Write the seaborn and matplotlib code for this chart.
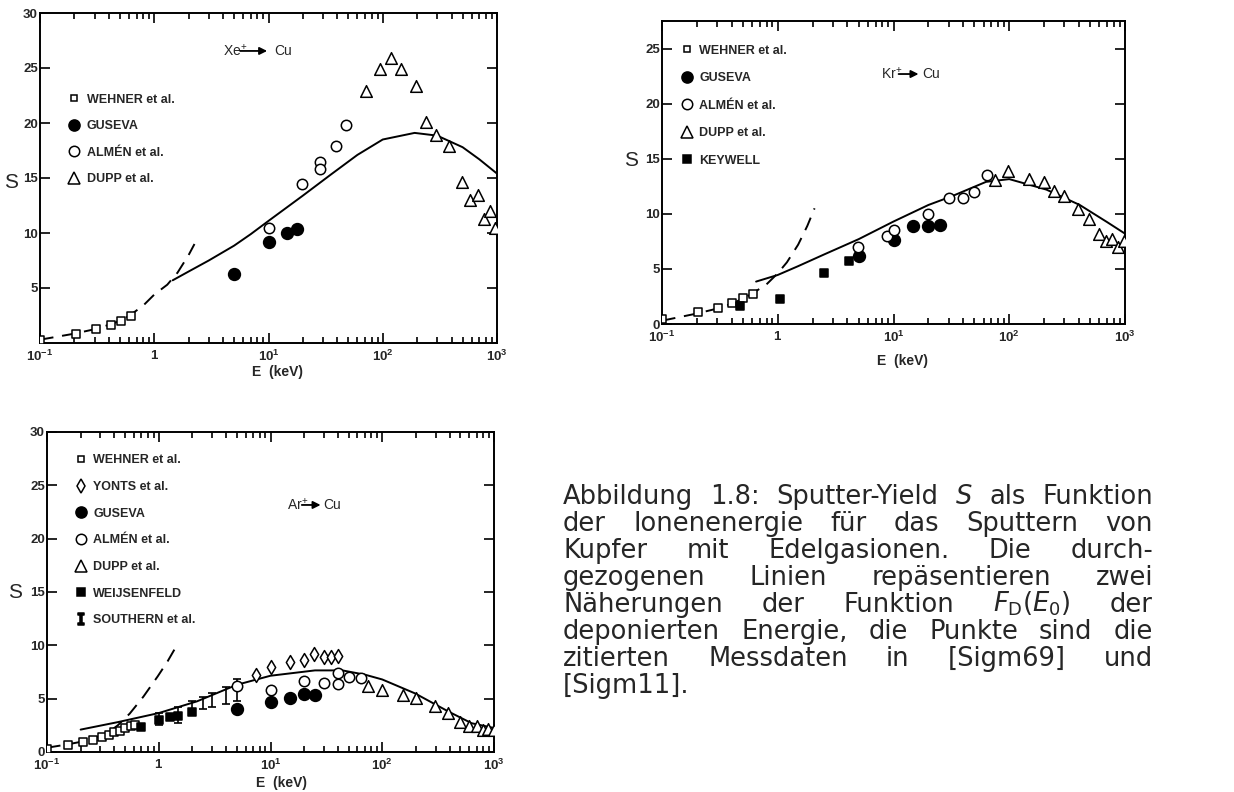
import numpy as np
import pandas as pd
import matplotlib
matplotlib.use("Agg")
import matplotlib.pyplot as plt
import seaborn as sns
from matplotlib.lines import Line2D
from matplotlib.ticker import FixedLocator, LogLocator, NullFormatter, FixedFormatter

# ---------------- data ----------------
# Xe+ -> Cu
xe_wehner_E = [0.10, 0.207, 0.31, 0.42, 0.51, 0.62]
xe_wehner_S = [0.3, 0.85, 1.25, 1.65, 2.0, 2.5]
xe_guseva_E = [5.0, 10.0, 14.5, 17.6]
xe_guseva_S = [6.3, 9.2, 10.0, 10.4]
xe_almen_E = [10.0, 19.5, 28.5, 28.5, 38.8, 48.0]
xe_almen_S = [10.5, 14.5, 16.5, 15.8, 17.9, 19.8]
xe_dupp_E = [71.5, 94.6, 118.6, 144.5, 194, 240, 294, 382, 489, 580, 683, 765, 866, 966]
xe_dupp_S = [22.9, 24.9, 25.9, 24.9, 23.4, 20.1, 18.9, 17.9, 14.6, 13.0, 13.5, 11.3, 12.0, 10.5]
xe_solid_E = [1.45, 2.0, 3.0, 5.0, 7.0, 10, 20, 35, 60, 100, 190, 300, 500, 700, 1000]
xe_solid_S = [5.7, 6.5, 7.5, 8.85, 9.9, 11.1, 13.4, 15.3, 17.1, 18.5, 19.1, 18.85, 17.8, 16.7, 15.4]
xe_dash_E = [0.1, 0.2, 0.3, 0.4, 0.5, 0.6, 0.8, 1.0, 1.3, 1.6, 2.0, 2.25]
xe_dash_S = [0.3, 0.85, 1.25, 1.65, 2.0, 2.45, 3.4, 4.4, 5.3, 6.4, 8.0, 9.0]

# Kr+ -> Cu
kr_wehner_E = [0.10, 0.205, 0.303, 0.404, 0.505, 0.61]
kr_wehner_S = [0.42, 1.06, 1.42, 1.94, 2.4, 2.76]
kr_guseva_E = [5.0, 10.0, 14.8, 19.9, 25.3]
kr_guseva_S = [6.2, 7.6, 8.85, 8.85, 8.94]
kr_almen_E = [4.9, 8.8, 10.0, 20.0, 29.9, 40.0, 49.6, 64.8]
kr_almen_S = [7.0, 8.0, 8.5, 10.0, 11.4, 11.4, 12.0, 13.5]
kr_dupp_E = [75.5, 98, 147, 199, 243, 299, 395, 490, 594, 679, 776, 870, 980]
kr_dupp_S = [13.1, 13.85, 13.15, 12.85, 12.1, 11.6, 10.45, 9.5, 8.2, 7.55, 7.7, 7.0, 7.5]
kr_keywell_E = [0.47, 1.05, 2.5, 4.1]
kr_keywell_S = [1.67, 2.27, 4.67, 5.7]
kr_solid_E = [0.65, 1.0, 1.5, 2.5, 5, 10, 20, 32, 63, 100, 209, 407, 700, 1000]
kr_solid_S = [3.85, 4.45, 5.25, 6.3, 7.7, 9.3, 10.8, 11.6, 12.9, 13.15, 12.2, 10.8, 9.25, 8.2]
kr_dash_E = [0.1, 0.2, 0.3, 0.4, 0.5, 0.6, 0.8, 1.0, 1.2, 1.5, 1.8, 2.08]
kr_dash_S = [0.3, 0.95, 1.4, 1.85, 2.3, 2.75, 3.6, 4.6, 5.6, 7.2, 8.9, 10.5]

# Ar+ -> Cu
ar_wehner_E = [0.10, 0.154, 0.208, 0.26, 0.31, 0.356, 0.40, 0.45, 0.50, 0.56, 0.61]
ar_wehner_S = [0.3, 0.7, 0.94, 1.16, 1.4, 1.63, 1.84, 2.0, 2.25, 2.47, 2.56]
ar_yonts_E = [7.4, 10, 15, 20, 24.5, 30, 35, 40]
ar_yonts_S = [7.25, 7.95, 8.4, 8.6, 9.2, 8.9, 8.9, 9.0]
ar_guseva_E = [5, 10, 15, 20, 25]
ar_guseva_S = [4.0, 4.65, 5.1, 5.45, 5.3]
ar_almen_E = [5, 10, 20, 30, 40, 40, 50, 65]
ar_almen_S = [6.2, 5.85, 6.7, 6.5, 7.4, 6.4, 7.0, 6.9]
ar_dupp_E = [74, 100, 154, 200, 295, 390, 500, 600, 700, 800, 880, 1000]
ar_dupp_S = [6.2, 5.8, 5.3, 5.1, 4.3, 3.65, 2.8, 2.4, 2.4, 2.1, 2.15, 2.1]
ar_weij_E = [0.69, 1.0, 1.27, 1.49, 2.0]
ar_weij_S = [2.35, 3.0, 3.25, 3.4, 3.75]
ar_south_E = [1.0, 1.5, 2.0, 2.5, 3.0, 4.0, 5.0]
ar_south_lo = [2.5, 2.7, 3.65, 4.0, 4.2, 4.5, 4.75]
ar_south_hi = [3.7, 4.2, 4.75, 5.2, 5.5, 6.1, 6.85]
ar_solid_E = [0.2, 0.43, 1, 2.2, 5, 10, 25, 44, 70, 100, 196, 390, 630, 1000]
ar_solid_S = [2.1, 2.8, 3.65, 4.75, 6.3, 7.15, 7.65, 7.65, 7.25, 6.8, 5.5, 3.8, 2.7, 2.25]
ar_dash_E = [0.1, 0.15, 0.2, 0.25, 0.3, 0.35, 0.43, 0.55, 0.73, 0.98, 1.2, 1.47]
ar_dash_S = [0.4, 0.7, 0.95, 1.2, 1.5, 1.8, 2.5, 3.6, 5.2, 7.1, 8.5, 10.1]

x_ticks = [0.1, 1, 10, 100, 1000]
x_ticklabels = [r"$\mathbf{10^{-1}}$", r"$\mathbf{1}$", r"$\mathbf{10^{1}}$",
                r"$\mathbf{10^{2}}$", r"$\mathbf{10^{3}}$"]

caption_lines = [
    "Abbildung 1.8: Sputter-Yield $S$ als Funktion",
    "der Ionenenergie für das Sputtern von",
    "Kupfer mit Edelgasionen. Die durch-",
    "gezogenen Linien repäsentieren zwei",
    "Näherungen der Funktion $F_\\mathrm{D}(E_0)$ der",
    "deponierten Energie, die Punkte sind die",
    "zitierten Messdaten in [Sigm69] und",
    "[Sigm11].",
]

# ---------------- style ----------------
sns.set_style("ticks")
plt.rcParams["font.family"] = ["Liberation Sans", "DejaVu Sans"]
plt.rcParams["mathtext.fontset"] = "custom"
plt.rcParams["mathtext.rm"] = "Liberation Sans"
plt.rcParams["mathtext.it"] = "Liberation Sans:italic"
plt.rcParams["mathtext.bf"] = "Liberation Sans:bold"
plt.rcParams["mathtext.tt"] = "DejaVu Sans Mono:bold"

STY = {
    "WEHNER et al.": dict(marker="s", s=26, fc="white", ms=5.0),
    "YONTS et al.": dict(marker="d", s=50, fc="white", ms=7.0),
    "GUSEVA": dict(marker="o", s=72, fc="black", ms=8.0),
    "ALMÉN et al.": dict(marker="o", s=56, fc="white", ms=7.5),
    "DUPP et al.": dict(marker="^", s=70, fc="white", ms=8.0),
    "KEYWELL": dict(marker="s", s=34, fc="black", ms=5.6),
    "WEIJSENFELD": dict(marker="s", s=34, fc="black", ms=5.6),
    "SOUTHERN et al.": dict(marker=r"$\mathtt{I}$", s=0, fc="black", ms=8),
}

W, H = 1234, 792
fig = plt.figure(figsize=(W / 100, H / 100), dpi=100)
fig.patch.set_facecolor("white")


def add_ax(l, r, t, b):
    return fig.add_axes([l / W, 1 - b / H, (r - l) / W, (b - t) / H])


def pts(ax, E, S, key):
    st = STY[key]
    sns.scatterplot(x=E, y=S, ax=ax, marker=st["marker"], s=st["s"],
                    facecolor=st["fc"], edgecolor="black", linewidth=1.1,
                    zorder=4, legend=False)


def curve(ax, E, S, dashed=False):
    kw = dict(color="black", lw=1.4, zorder=3, estimator=None, sort=False)
    if dashed:
        kw["linestyle"] = (0, (7, 4.5))
    sns.lineplot(x=E, y=S, ax=ax, **kw)


def style_ax(ax, ylim, yticks, ylab_xy, xlab_xy):
    ax.set_xscale("log")
    ax.set_xlim(0.1, 1000)
    ax.set_ylim(*ylim)
    ax.xaxis.set_major_locator(FixedLocator(x_ticks))
    ax.xaxis.set_major_formatter(FixedFormatter(x_ticklabels))
    ax.xaxis.set_minor_locator(LogLocator(base=10, subs=range(2, 10)))
    ax.xaxis.set_minor_formatter(NullFormatter())
    ax.set_yticks(yticks)
    ax.set_yticklabels([str(v) for v in yticks])
    ax.tick_params(which="both", direction="in", top=True, right=True, width=1.2, color="black")
    ax.tick_params(which="major", length=7.5)
    ax.tick_params(axis="y", labelsize=9.5, pad=1.5)
    ax.tick_params(axis="x", labelsize=9.5, pad=4.5)
    ax.tick_params(which="minor", length=4.5)
    for lab in ax.get_yticklabels():
        lab.set_fontweight("bold")
    for sp in ax.spines.values():
        sp.set_linewidth(1.4)
        sp.set_color("black")
        sp.set_visible(True)
    ax.set_ylabel("S", rotation=0, fontsize=15, va="center", ha="center")
    ax.yaxis.set_label_coords(*ylab_xy)
    ax.set_xlabel("E  (keV)", fontsize=10, fontweight="bold")
    ax.xaxis.set_label_coords(*xlab_xy)
    ax.set_facecolor("white")
    ax.grid(False)


def legend(ax, keys, anchor, spacing):
    handles = []
    for k in keys:
        st = STY[k]
        handles.append(Line2D([], [], ls="none", marker=st["marker"], markersize=st["ms"],
                              markerfacecolor=st["fc"], markeredgecolor="black",
                              markeredgewidth=1.1, color="black"))
    ax.legend(handles, keys, loc="upper left", bbox_to_anchor=anchor, frameon=False,
              prop=dict(family="Liberation Sans", weight="bold", size=9),
              labelspacing=spacing, handlelength=0.8, handletextpad=0.6,
              borderpad=0, borderaxespad=0)


def ion(ax, label, x0, x1, x2, x3, y):
    ax.text(x0, y, label, transform=ax.transAxes, fontsize=10, ha="left", va="center")
    ax.annotate("", xy=(x2, y), xytext=(x1, y), xycoords="axes fraction",
                arrowprops=dict(arrowstyle="-|>", color="black", lw=1.3,
                                mutation_scale=11, shrinkA=0, shrinkB=0))
    ax.text(x3, y, "Cu", transform=ax.transAxes, fontsize=10, ha="left", va="center")


# ---------------- Xe panel ----------------
ax1 = add_ax(40, 497, 13, 343)
curve(ax1, xe_solid_E, xe_solid_S)
curve(ax1, xe_dash_E, xe_dash_S, dashed=True)
pts(ax1, xe_wehner_E, xe_wehner_S, "WEHNER et al.")
pts(ax1, xe_guseva_E, xe_guseva_S, "GUSEVA")
pts(ax1, xe_almen_E, xe_almen_S, "ALMÉN et al.")
pts(ax1, xe_dupp_E, xe_dupp_S, "DUPP et al.")
style_ax(ax1, (0, 30), [5, 10, 15, 20, 25, 30], (-0.063, 0.485), (0.52, -0.067))
legend(ax1, ["WEHNER et al.", "GUSEVA", "ALMÉN et al.", "DUPP et al."], (0.064, 0.756), 1.16)
ion(ax1, "Xe$^{+}$", 0.400, 0.438, 0.497, 0.512, 0.885)

# ---------------- Kr panel ----------------
ax2 = add_ax(662, 1125, 21, 324)
curve(ax2, kr_solid_E, kr_solid_S)
curve(ax2, kr_dash_E, kr_dash_S, dashed=True)
pts(ax2, kr_wehner_E, kr_wehner_S, "WEHNER et al.")
pts(ax2, kr_keywell_E, kr_keywell_S, "KEYWELL")
pts(ax2, kr_guseva_E, kr_guseva_S, "GUSEVA")
pts(ax2, kr_almen_E, kr_almen_S, "ALMÉN et al.")
pts(ax2, kr_dupp_E, kr_dupp_S, "DUPP et al.")
style_ax(ax2, (0, 27.5), [0, 5, 10, 15, 20, 25], (-0.067, 0.541), (0.52, -0.1))
legend(ax2, ["WEHNER et al.", "GUSEVA", "ALMÉN et al.", "DUPP et al.", "KEYWELL"], (0.043, 0.922), 1.24)
ion(ax2, "Kr$^{+}$", 0.472, 0.511, 0.554, 0.562, 0.825)

# ---------------- Ar panel ----------------
ax3 = add_ax(47, 494, 432, 752)
curve(ax3, ar_solid_E, ar_solid_S)
curve(ax3, ar_dash_E, ar_dash_S, dashed=True)
ar_mid = [(lo + hi) / 2 for lo, hi in zip(ar_south_lo, ar_south_hi)]
ax3.errorbar(ar_south_E, ar_mid,
             yerr=[[m - lo for m, lo in zip(ar_mid, ar_south_lo)],
                   [hi - m for m, hi in zip(ar_mid, ar_south_hi)]],
             fmt="none", ecolor="black", elinewidth=1.2, capsize=3, capthick=1.2, zorder=3)
pts(ax3, ar_wehner_E, ar_wehner_S, "WEHNER et al.")
pts(ax3, ar_weij_E, ar_weij_S, "WEIJSENFELD")
pts(ax3, ar_yonts_E, ar_yonts_S, "YONTS et al.")
pts(ax3, ar_guseva_E, ar_guseva_S, "GUSEVA")
pts(ax3, ar_almen_E, ar_almen_S, "ALMÉN et al.")
pts(ax3, ar_dupp_E, ar_dupp_S, "DUPP et al.")
style_ax(ax3, (0, 30), [0, 5, 10, 15, 20, 25, 30], (-0.072, 0.5), (0.525, -0.076))
legend(ax3, ["WEHNER et al.", "YONTS et al.", "GUSEVA", "ALMÉN et al.", "DUPP et al.",
             "WEIJSENFELD", "SOUTHERN et al."], (0.064, 0.93), 1.17)
ion(ax3, "Ar$^{+}$", 0.536, 0.570, 0.612, 0.618, 0.772)

# ---------------- caption (justified) ----------------
renderer = fig.canvas.get_renderer()
cap_x0, cap_x1 = 563, 1153
cap_y0, cap_pitch = 504, 27
cap_fs = 18.5
for i, line in enumerate(caption_lines):
    words = line.split(" ")
    yb = 1 - (cap_y0 + i * cap_pitch) / H
    texts = [fig.text(0, yb, w, fontsize=cap_fs, ha="left", va="baseline",
                      family="DejaVu Sans", math_fontfamily="dejavusans") for w in words]
    widths = [t.get_window_extent(renderer).width for t in texts]
    last = i == len(caption_lines) - 1
    if len(words) > 1 and not last:
        gap = (cap_x1 - cap_x0 - sum(widths)) / (len(words) - 1)
    else:
        gap = cap_fs * 100 / 72 * 0.3
    x = cap_x0
    for t, w in zip(texts, widths):
        t.set_x(x / W)
        x += w + gap

fig.savefig("out.png", dpi=100, facecolor="white")
